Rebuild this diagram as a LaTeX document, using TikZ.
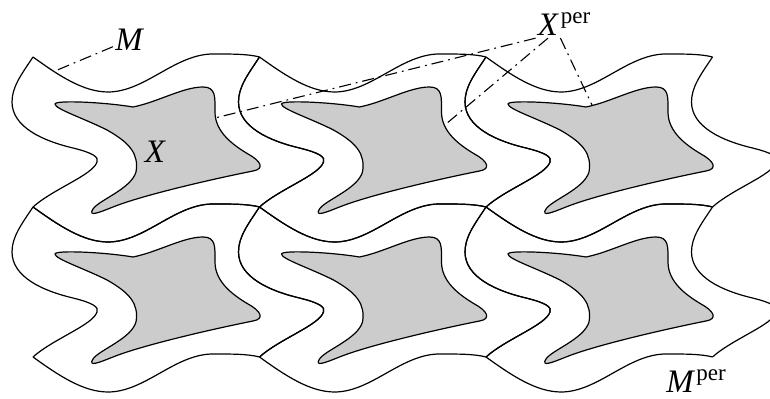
\documentclass[tikz,border=0pt]{standalone}
\usepackage{fontspec}
\setmainfont{Liberation Serif}
\usepackage{tikz}
\usetikzlibrary{positioning}

\begin{document}
\begin{tikzpicture}[x=0.5pt, y=-0.5pt]
		\tikzstyle{Wall}	= [black, line width=0.6pt]
		\tikzstyle{Grain}	= [draw=black, fill=black!20, line width=0.6pt]
		\tikzstyle{Leader}	= [black, line width=0.55pt, dash pattern=on 6pt off 2.5pt on 0.9pt off 2.5pt]
		\tikzstyle{Label}	= [inner sep=1pt, font=\fontsize{16.4}{20}\selectfont\itshape]
		\tikzstyle{Sup}		= [inner sep=0pt, anchor=base west, yshift=6pt, font=\fontsize{11.5}{13}\selectfont]
		\tikzset{tile/.pic={
			% top and bottom walls
			\draw (0,0) .. controls (25,18) and (50,35) .. (75,35) .. controls (112,35) and (142,-3) .. (180,-3) .. controls (200,-3) and (215,-3) .. (226.5,0) [Wall];
			\draw [shift={(0,150)}] (0,0) .. controls (25,18) and (50,35) .. (75,35) .. controls (112,35) and (142,-3) .. (180,-3) .. controls (200,-3) and (215,-3) .. (226.5,0) [Wall];
			% left and right walls
			\draw (0,0) .. controls (-12,18) and (-21,30) .. (-21,45) .. controls (-21,70) and (10,84) .. (40,91) .. controls (60,96) and (66,100) .. (64,105) .. controls (60,118) and (20,132) .. (0,150) [Wall];
			\draw [shift={(226.5,0)}] (0,0) .. controls (-12,18) and (-21,30) .. (-21,45) .. controls (-21,70) and (10,84) .. (40,91) .. controls (60,96) and (66,100) .. (64,105) .. controls (60,118) and (20,132) .. (0,150) [Wall];
			% inclusion
			\draw (22,47) .. controls (22,43) and (70,45) .. (100,50) .. controls (125,45) and (150,30) .. (170,30)
				.. controls (183,30) and (182,40) .. (182,55) .. controls (182,75) and (200,88) .. (215,97)
				.. controls (228,104) and (232,112) .. (220,114) .. controls (180,122) and (110,138) .. (80,150)
				.. controls (65,156) and (55,160) .. (60,152) .. controls (66,143) and (98,132) .. (103,115)
				.. controls (106,97) and (97,86) .. (74,73) .. controls (50,61) and (22,52) .. (22,47) -- cycle [Grain];
		}}

		\useasboundingbox (0,0) rectangle (770,399);

		\pic at (33, 57) {tile};
		\pic at (259.5, 57) {tile};
		\pic at (486, 57) {tile};
		\pic at (33, 207) {tile};
		\pic at (259.5, 207) {tile};
		\pic at (486, 207) {tile};

		\node (M) at (129, 40) [Label] {M};
		\node (X) at (155, 152) [Label] {X};
		\node (xper) at (548, 25) [Label] {X};
		\node (xpersup) at (xper.base east) [Sup] {per};
		\node (mper) at (680, 382) [Label] {M};
		\node (mpersup) at (mper.base east) [Sup] {per};

		\coordinate (m1) at (55, 71);
		\coordinate (x1) at (215, 118);
		\coordinate (x2) at (446, 124);
		\coordinate (x3) at (592, 105);

		\draw [-] (M) to (m1) [Leader];
		\draw [-] (xper.south west) to (x1) [Leader];
		\draw [-] (xper.south) to (x2) [Leader];
		\draw [-] (xper.south east) to (x3) [Leader];
	\end{tikzpicture}
\end{document}
